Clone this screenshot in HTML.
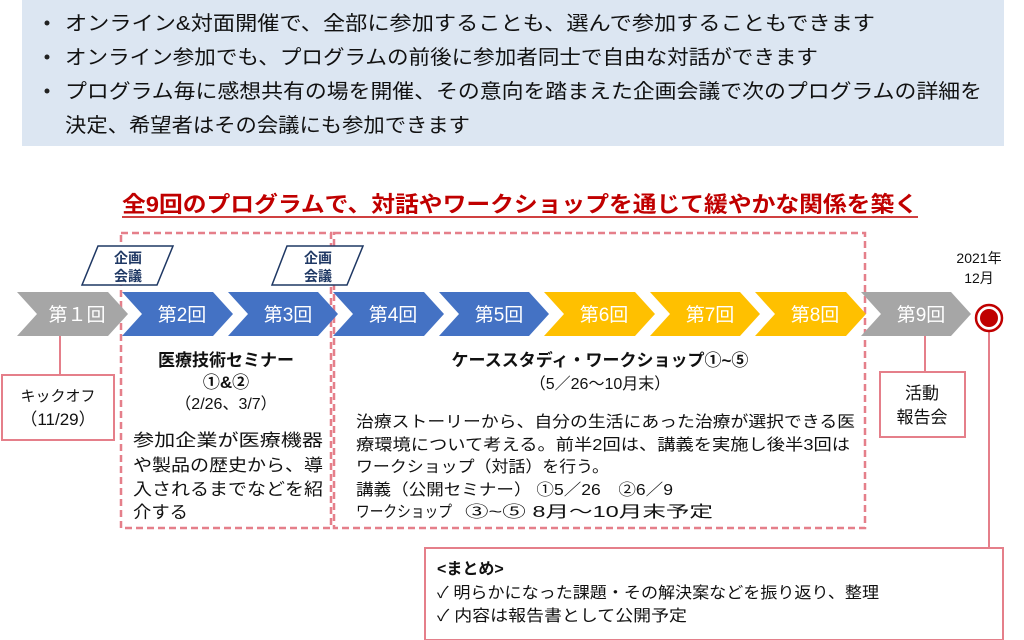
<!DOCTYPE html>
<html><head><meta charset="utf-8"><style>
html,body{margin:0;padding:0;background:#fff;}
svg{display:block;}
text{font-family:"Liberation Sans","Noto Sans CJK JP",sans-serif;}
</style></head><body>
<svg width="1024" height="640" viewBox="0 0 1024 640" xmlns="http://www.w3.org/2000/svg">
<rect x="22" y="0" width="982" height="146" fill="#dce6f2"/>
<g font-size="20" fill="#111">
<circle cx="47" cy="23" r="2.5" fill="#222"/><circle cx="47" cy="57" r="2.5" fill="#222"/><circle cx="47" cy="91" r="2.5" fill="#222"/>
<text x="65" y="30" textLength="810" lengthAdjust="spacingAndGlyphs">オンライン&amp;対面開催で、全部に参加することも、選んで参加することもできます</text>
<text x="65" y="64" textLength="753" lengthAdjust="spacingAndGlyphs">オンライン参加でも、プログラムの前後に参加者同士で自由な対話ができます</text>
<text x="65" y="98" textLength="917" lengthAdjust="spacingAndGlyphs">プログラム毎に感想共有の場を開催、その意向を踏まえた企画会議で次のプログラムの詳細を</text>
<text x="65" y="132" textLength="405" lengthAdjust="spacingAndGlyphs">決定、希望者はその会議にも参加できます</text>
</g>
<text x="122" y="212" font-size="22" font-weight="bold" fill="#c00000" textLength="796" lengthAdjust="spacingAndGlyphs">全9回のプログラムで、対話やワークショップを通じて緩やかな関係を築く</text>
<line x1="122" y1="217" x2="918" y2="217" stroke="#c00000" stroke-width="1.5"/>
<g fill="none" stroke="#e57f8a" stroke-width="2.5" stroke-dasharray="7,4">
<rect x="121" y="233" width="210" height="295"/>
<rect x="334" y="233" width="531" height="295"/>
</g>
<g>
<polygon points="17,292 108,292 128,314 108,336 17,336 37,314" fill="#a6a6a6"/>
<polygon points="122,292 213,292 233,314 213,336 122,336 142,314" fill="#4472c4"/>
<polygon points="228,292 318,292 338,314 318,336 228,336 248,314" fill="#4472c4"/>
<polygon points="333,292 424,292 444,314 424,336 333,336 353,314" fill="#4472c4"/>
<polygon points="439,292 529,292 549,314 529,336 439,336 459,314" fill="#4472c4"/>
<polygon points="544,292 635,292 655,314 635,336 544,336 564,314" fill="#ffc000"/>
<polygon points="650,292 740,292 760,314 740,336 650,336 670,314" fill="#ffc000"/>
<polygon points="755,292 846,292 866,314 846,336 755,336 775,314" fill="#ffc000"/>
<polygon points="861,292 951,292 971,314 951,336 861,336 881,314" fill="#a6a6a6"/>
</g>
<g font-size="19" fill="#fff" text-anchor="middle">
<text x="77" y="321">第１回</text><text x="182" y="321">第2回</text><text x="288" y="321">第3回</text>
<text x="393" y="321">第4回</text><text x="499" y="321">第5回</text><text x="604" y="321">第6回</text>
<text x="710" y="321">第7回</text><text x="815" y="321">第8回</text><text x="921" y="321">第9回</text>
</g>
<g fill="#fff" stroke="#1f3864" stroke-width="1.5">
<polygon points="98,246 173,246 157,285 82,285"/>
<polygon points="287,246 363,246 347,285 272,285"/>
</g>
<g font-size="14" font-weight="bold" fill="#1f3864" text-anchor="middle">
<text x="128" y="263">企画</text><text x="128" y="281">会議</text>
<text x="318" y="263">企画</text><text x="318" y="281">会議</text>
</g>
<line x1="60" y1="336" x2="60" y2="375" stroke="#e57f8a" stroke-width="2"/>
<rect x="2" y="375" width="112" height="65" fill="#fff" stroke="#e57f8a" stroke-width="2"/>
<text x="58" y="401" font-size="15" text-anchor="middle" fill="#111">キックオフ</text>
<text x="58" y="425" font-size="17" text-anchor="middle" fill="#111">（11/29）</text>
<line x1="925" y1="336" x2="925" y2="372" stroke="#e57f8a" stroke-width="2"/>
<rect x="880" y="372" width="85" height="65" fill="#fff" stroke="#e57f8a" stroke-width="2"/>
<text x="922" y="399" font-size="17" text-anchor="middle" fill="#111">活動</text>
<text x="922" y="423" font-size="17" text-anchor="middle" fill="#111">報告会</text>
<text x="979" y="263" font-size="14" text-anchor="middle" fill="#111">2021年</text>
<text x="979" y="283" font-size="14" text-anchor="middle" fill="#111">12月</text>
<line x1="989" y1="318" x2="989" y2="548" stroke="#e57f8a" stroke-width="2"/>
<circle cx="989" cy="318" r="13" fill="#fff" stroke="#c00000" stroke-width="2.5"/>
<circle cx="989" cy="318" r="9" fill="#c00000"/>
<g fill="#111" text-anchor="middle">
<text x="226" y="366" font-size="17" font-weight="bold">医療技術セミナー</text>
<text x="226" y="388" font-size="17" font-weight="bold">①&amp;②</text>
<text x="226" y="409" font-size="16">（2/26、3/7）</text>
</g>
<g fill="#111" font-size="17">
<text x="133" y="446" textLength="190" lengthAdjust="spacingAndGlyphs">参加企業が医療機器</text>
<text x="133" y="471" textLength="190" lengthAdjust="spacingAndGlyphs">や製品の歴史から、導</text>
<text x="133" y="495" textLength="190" lengthAdjust="spacingAndGlyphs">入されるまでなどを紹</text>
<text x="133" y="518" textLength="55" lengthAdjust="spacingAndGlyphs">介する</text>
</g>
<g fill="#111" text-anchor="middle">
<text x="600" y="366" font-size="17" font-weight="bold">ケーススタディ・ワークショップ①~⑤</text>
<text x="600" y="389" font-size="16">（5／26～10月末）</text>
</g>
<g fill="#111" font-size="16">
<text x="356" y="427" textLength="499" lengthAdjust="spacingAndGlyphs">治療ストーリーから、自分の生活にあった治療が選択できる医</text>
<text x="356" y="450" textLength="494" lengthAdjust="spacingAndGlyphs">療環境について考える。前半2回は、講義を実施し後半3回は</text>
<text x="356" y="472" textLength="253" lengthAdjust="spacingAndGlyphs">ワークショップ（対話）を行う。</text>
<text x="356" y="495" textLength="317" lengthAdjust="spacingAndGlyphs">講義（公開セミナー） ①5／26　②6／9</text>
<text x="356" y="517" textLength="96" lengthAdjust="spacingAndGlyphs">ワークショップ</text>
<text x="465" y="517" textLength="248" lengthAdjust="spacingAndGlyphs">③~⑤ 8月～10月末予定</text>
</g>
<rect x="425" y="548" width="578" height="92" fill="#fff" stroke="#e57f8a" stroke-width="2"/>
<g fill="#111" font-size="16">
<text x="437" y="574" font-weight="bold">&lt;まとめ&gt;</text>
<text x="437" y="598" textLength="442" lengthAdjust="spacingAndGlyphs">✓ 明らかになった課題・その解決案などを振り返り、整理</text>
<text x="437" y="621" textLength="250" lengthAdjust="spacingAndGlyphs">✓ 内容は報告書として公開予定</text>
</g>
</svg>
</body></html>
